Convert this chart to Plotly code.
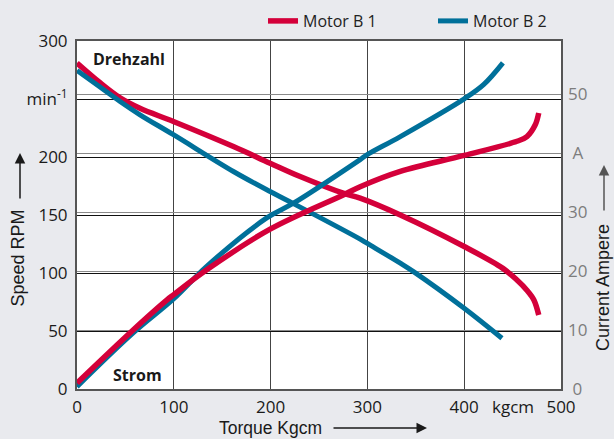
import plotly.graph_objects as go

# ---- data ----
red_speed_x = [0, 23.8, 44.5, 65, 99.6, 161.6, 199.5, 230.5, 275, 292.5, 334, 400, 440, 454.5, 465, 472, 477]
red_speed_y = [281, 264, 251, 242, 230.6, 209, 194.7, 183.2, 168.8, 164.5, 150, 122.8, 104, 94, 85, 76.8, 63.8]

blue_speed_x = [0, 23.8, 44.5, 65.1, 99.6, 161.6, 199.5, 223.6, 292.5, 299.5, 334, 347.6, 400, 439]
blue_speed_y = [274.6, 260.3, 247.9, 236.4, 219.2, 187.5, 170.2, 159.8, 129.2, 125.7, 108.5, 101.2, 69.6, 43.7]

red_cur_x = [0, 58, 93, 100, 134, 199.5, 275, 292.5, 334, 400, 454.5, 464.8, 473.4, 477]
red_cur_y = [1.0, 10.0, 15.1, 16.0, 20.2, 27.1, 32.9, 34.3, 36.9, 39.6, 42.0, 42.8, 44.8, 46.8]

blue_cur_x = [0, 58, 100, 134, 196, 223.6, 292.5, 299.5, 334, 400, 420, 440]
blue_cur_y = [0.4, 9.5, 15.3, 20.8, 29.0, 31.5, 38.9, 39.7, 42.8, 49.2, 51.6, 55.3]

x_ticks = [0, 100, 200, 300, 400, 500]
speed_ticks = [0, 50, 100, 150, 200, 250, 300]
speed_labels = ["0", "50", "100", "150", "200", "min<sup>-1</sup>", "300"]
cur_ticks = [0, 10, 20, 30, 40, 50]
cur_labels = ["\u00a00", "10", "20", "30", "\u00a0A", "50"]

RED = "#d4003a"
BLUE = "#00709a"
TICKFONT = "Open Sans"
TITLEFONT = "Liberation Sans"

fig = go.Figure()
fig.add_trace(go.Scatter(x=red_speed_x, y=red_speed_y, mode="lines", name="Motor B 1",
                         legendgroup="b1", line=dict(color=RED, width=5.5, shape="spline"), yaxis="y"))
fig.add_trace(go.Scatter(x=blue_speed_x, y=blue_speed_y, mode="lines", name="Motor B 2",
                         legendgroup="b2", line=dict(color=BLUE, width=5, shape="spline"), yaxis="y"))
fig.add_trace(go.Scatter(x=blue_cur_x, y=blue_cur_y, mode="lines", name="Motor B 2",
                         legendgroup="b2", showlegend=False,
                         line=dict(color=BLUE, width=5, shape="spline"), yaxis="y2"))
fig.add_trace(go.Scatter(x=red_cur_x, y=red_cur_y, mode="lines", name="Motor B 1",
                         legendgroup="b1", showlegend=False,
                         line=dict(color=RED, width=5.5, shape="spline"), yaxis="y2"))

W, H = 614, 439
L, R, T, B = 77, 53, 41, 50
pw, ph = W - L - R, H - T - B


def px2paper_x(px):
    return (px - L) / pw


def px2paper_y(py):
    return (H - B - py) / ph


fig.update_layout(
    width=W, height=H,
    margin=dict(l=L, r=R, t=T, b=B, pad=0, autoexpand=False),
    paper_bgcolor="#e9eaee",
    plot_bgcolor="#ffffff",
    showlegend=True,
    legend=dict(orientation="h", x=px2paper_x(263), xanchor="left",
                y=px2paper_y(21), yanchor="middle",
                font=dict(family=TICKFONT, size=16, color="#222222"),
                bgcolor="rgba(0,0,0,0)", entrywidth=125, entrywidthmode="pixels",
                traceorder="normal"),
    xaxis=dict(range=[0, 500], tickvals=x_ticks, showgrid=True, gridcolor="#444444", gridwidth=1.3,
               zeroline=False, showline=True, linecolor="#555555", linewidth=2, mirror=True,
               ticks="", tickfont=dict(family=TICKFONT, size=17, color="#1a1a1a"),
               ticklabelstandoff=2),
    yaxis=dict(range=[0, 300], tickvals=speed_ticks, ticktext=speed_labels, showgrid=True,
               gridcolor="#111111", gridwidth=1.2, zeroline=False, showline=True,
               linecolor="#555555", linewidth=2, mirror=True, ticks="",
               tickfont=dict(family=TICKFONT, size=17, color="#1a1a1a"), ticklabelstandoff=4),
    yaxis2=dict(range=[0, 59], overlaying="y", side="right", tickvals=cur_ticks, ticktext=cur_labels,
                showgrid=True, gridcolor="#8a8a8a", gridwidth=1.2, zeroline=False, showline=False,
                ticks="", tickfont=dict(family=TICKFONT, size=17, color="#7d7d7d"),
                ticklabelstandoff=6),
)

annotations = [
    dict(text="<b>Drehzahl</b>", x=53.8, y=284.7, xref="x", yref="y", showarrow=False,
         font=dict(family=TICKFONT, size=16, color="#1a1a1a")),
    dict(text="<b>Strom</b>", x=62.5, y=12, xref="x", yref="y", showarrow=False,
         font=dict(family=TICKFONT, size=16, color="#1a1a1a")),
    dict(text="kgcm", x=450, y=px2paper_y(406), xref="x", yref="paper", showarrow=False,
         yanchor="middle", font=dict(family=TICKFONT, size=17, color="#1a1a1a")),
    dict(text="Torque Kgcm", x=px2paper_x(270), y=px2paper_y(428), xref="paper", yref="paper",
         showarrow=False, yanchor="middle", font=dict(family=TITLEFONT, size=17.5, color="#1a1a1a")),
    dict(text="Speed RPM", x=px2paper_x(17), y=px2paper_y(258.5), xref="paper", yref="paper",
         showarrow=False, textangle=-90, xanchor="center", yanchor="middle",
         font=dict(family=TITLEFONT, size=18, color="#1a1a1a")),
    dict(text="Current Ampere", x=px2paper_x(603), y=px2paper_y(288), xref="paper", yref="paper",
         showarrow=False, textangle=-90, xanchor="center", yanchor="middle",
         font=dict(family=TITLEFONT, size=18, color="#1a1a1a")),
    # arrows
    dict(text="", x=px2paper_x(427), y=px2paper_y(428), xref="paper", yref="paper",
         showarrow=True, ax=-95, ay=0, arrowhead=2, arrowsize=1.4, arrowwidth=1.5, arrowcolor="#1a1a1a"),
    dict(text="", x=px2paper_x(20), y=px2paper_y(153), xref="paper", yref="paper",
         showarrow=True, ax=0, ay=47, arrowhead=2, arrowsize=1.4, arrowwidth=1.5, arrowcolor="#1a1a1a"),
    dict(text="", x=px2paper_x(604), y=px2paper_y(165), xref="paper", yref="paper",
         showarrow=True, ax=0, ay=47, arrowhead=2, arrowsize=1.4, arrowwidth=1.5, arrowcolor="#555555"),
]
fig.update_layout(annotations=annotations)

fig.write_html("out.html")
